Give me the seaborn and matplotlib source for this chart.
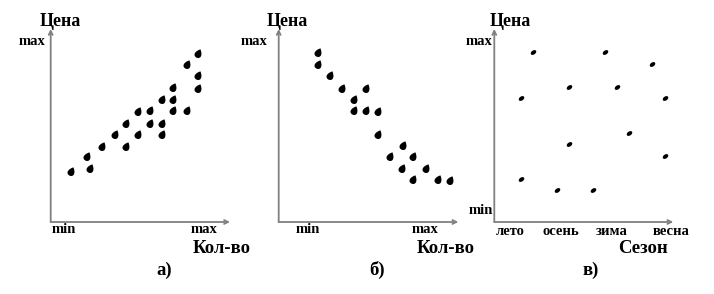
import numpy as np
import matplotlib
matplotlib.use("Agg")
import matplotlib.pyplot as plt
import seaborn as sns
from matplotlib.path import Path

# ---------------- data (units: arbitrary) ----------------
a_qty = [20, 36, 39, 51, 64, 75, 75, 87, 87, 99, 99, 111, 111, 111, 122, 122, 122, 136, 136, 147, 147, 147]
a_price = [51, 66, 54, 76, 88, 76, 99, 88, 111, 112, 99, 99, 88, 123, 135, 123, 112, 112, 158, 169, 147, 134]

b_qty = [39, 39, 51, 63, 87, 75, 75, 87, 99, 99, 124, 111, 134, 123, 147, 134, 159, 171]
b_price = [170, 158, 147, 134, 134, 123, 112, 112, 111, 88, 77, 66, 66, 54, 54, 43, 43, 42]

c_season = [39, 111, 158, 75, 123, 27, 171, 135, 75, 171, 27, 63, 99]
c_price = [170, 170, 158, 135, 135, 124, 124, 89, 78, 66, 43, 32, 32]

qty_ticks = ["min", "max"]
price_ticks_ab = ["max"]
price_ticks_c = ["min", "max"]
season_labels = ["лето", "осень", "зима", "весна"]

y_label = "Цена"
x_labels = ["Кол-во", "Кол-во", "Сезон"]
panel_labels = ["а)", "б)", "в)"]

# ---------------- style ----------------
sns.set_style("white")
plt.rcParams["font.family"] = ["Liberation Serif", "DejaVu Serif"]
plt.rcParams["font.weight"] = "bold"
plt.rcParams["text.color"] = "black"
plt.rcParams["xtick.color"] = "black"
plt.rcParams["ytick.color"] = "black"

W, H = 714, 294
fig = plt.figure(figsize=(W / 100, H / 100), dpi=100)

AXIS_COLOR = "#808080"


def teardrop(angle_deg=65, squash=0.95):
    t = np.linspace(0, 2 * np.pi, 48)
    x = np.cos(t)
    y = np.sin(t) * np.sin(t / 2) ** 0.9 * squash
    a = np.deg2rad(angle_deg)
    xr = x * np.cos(a) - y * np.sin(a)
    yr = x * np.sin(a) + y * np.cos(a)
    verts = np.column_stack([xr, yr])
    return Path(verts, closed=True)


def ellipse(angle_deg=35, ratio=0.65):
    t = np.linspace(0, 2 * np.pi, 32)
    x = np.cos(t)
    y = np.sin(t) * ratio
    a = np.deg2rad(angle_deg)
    xr = x * np.cos(a) - y * np.sin(a)
    yr = x * np.sin(a) + y * np.cos(a)
    return Path(np.column_stack([xr, yr]), closed=True)


def make_ax(ox, oy, w, h):
    ax = fig.add_axes([ox / W, (H - oy) / H, w / W, h / H])
    ax.set_xlim(0, w)
    ax.set_ylim(0, h)
    for s in ax.spines.values():
        s.set_visible(False)
    ax.patch.set_alpha(0)
    arrow = dict(arrowstyle="->", color=AXIS_COLOR, lw=1.3, shrinkA=0, shrinkB=0,
                 mutation_scale=7)
    ax.annotate("", xy=(1, 0), xytext=(0, 0), xycoords="axes fraction", arrowprops=arrow)
    ax.annotate("", xy=(0, 1), xytext=(0, 0), xycoords="axes fraction", arrowprops=arrow)
    return ax


drop = teardrop()
small = ellipse()
TICK_SIZE = 10.5

# panel a
ax_a = make_ax(50.7, 222, 179.3, 193)
sns.scatterplot(x=a_qty, y=a_price, ax=ax_a, marker=drop, s=42, color="black", linewidth=0)
ax_a.set_xticks([13, 153], qty_ticks)
ax_a.set_yticks([182], price_ticks_ab)
ax_a.tick_params(axis="x", length=0, pad=0.5, labelsize=TICK_SIZE)
ax_a.tick_params(axis="y", length=0, pad=4, labelsize=TICK_SIZE)

# panel b
ax_b = make_ax(278.7, 222, 179.6, 193)
sns.scatterplot(x=b_qty, y=b_price, ax=ax_b, marker=drop, s=42, color="black", linewidth=0)
ax_b.set_xticks([29, 146], qty_ticks)
ax_b.set_yticks([182], price_ticks_ab)
ax_b.tick_params(axis="x", length=0, pad=0.5, labelsize=TICK_SIZE)
ax_b.tick_params(axis="y", length=0, pad=8, labelsize=TICK_SIZE)

# panel c
ax_c = make_ax(494.3, 222, 179, 193)
sns.scatterplot(x=c_season, y=c_price, ax=ax_c, marker=small, s=16, color="black", linewidth=0)
ax_c.set_xticks([15.7, 66.7, 117.7, 176.7], season_labels)
ax_c.set_yticks([13, 182], price_ticks_c)
ax_c.tick_params(axis="x", length=0, pad=2.5, labelsize=TICK_SIZE)
ax_c.tick_params(axis="y", length=0, pad=1, labelsize=TICK_SIZE)

for ax in (ax_a, ax_b, ax_c):
    ax.set_xlabel("")
    ax.set_ylabel("")

# axis titles and panel labels (figure pixel coords)
def ftext(x, y, s, ha="left", size=12):
    fig.text(x / W, 1 - y / H, s, ha=ha, va="baseline", fontsize=size,
             fontweight="bold", color="black")

for cx in (60.5, 287, 510):
    ftext(cx, 26, y_label, ha="center", size=13)
for lx, s in zip((193, 416.7, 618), x_labels):
    ftext(lx, 253, s, size=13.5)
for cx, s in zip((164.5, 377.5, 590.5), panel_labels):
    ftext(cx, 275, s, ha="center", size=13.5)

fig.savefig("out.png", dpi=100)
